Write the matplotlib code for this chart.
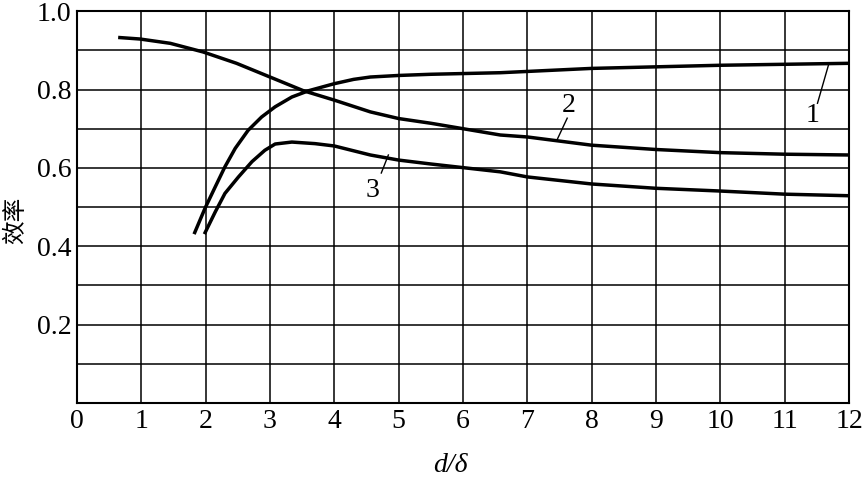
import numpy as np
import matplotlib
matplotlib.use('Agg')
import matplotlib.pyplot as plt

# curva 1
x1 = [1.82, 1.99, 2.15, 2.30, 2.46, 2.66, 2.87, 3.08, 3.34, 3.60, 4.0, 4.3, 4.56, 5.0, 5.5, 6.58, 8.0, 10.0, 12.0]
y1 = [0.431, 0.497, 0.552, 0.603, 0.650, 0.696, 0.730, 0.756, 0.781, 0.797, 0.815, 0.826, 0.832, 0.836, 0.839, 0.843, 0.854, 0.862, 0.867]

# curva 2
x2 = [0.64, 0.98, 1.45, 1.96, 2.48, 3.0, 3.52, 4.0, 4.56, 5.0, 5.5, 6.58, 7.0, 8.0, 9.0, 10.0, 11.0, 12.0]
y2 = [0.933, 0.929, 0.918, 0.896, 0.867, 0.832, 0.797, 0.773, 0.743, 0.726, 0.714, 0.684, 0.679, 0.658, 0.647, 0.639, 0.635, 0.633]

# curva 3
x3 = [1.98, 2.15, 2.30, 2.51, 2.72, 2.92, 3.08, 3.34, 3.70, 4.0, 4.56, 5.0, 5.5, 6.58, 7.0, 8.0, 9.0, 10.0, 11.0, 12.0]
y3 = [0.431, 0.488, 0.535, 0.577, 0.616, 0.645, 0.661, 0.666, 0.662, 0.656, 0.633, 0.62, 0.61, 0.59, 0.577, 0.559, 0.548, 0.541, 0.533, 0.529]

xticks = list(range(0, 13))
yticks = np.round(np.arange(0, 1.01, 0.1), 1)
ylabels = ['', '', '0.2', '', '0.4', '', '0.6', '', '0.8', '', '1.0']

serif = 'Liberation Serif'

fig = plt.figure(figsize=(8.65, 4.87), dpi=100)
ax = fig.add_axes([0.089, 0.1725, 0.8925, 0.8045])

for xs, ys in [(x1, y1), (x2, y2), (x3, y3)]:
    ax.plot(xs, ys, color='black', lw=2.5, solid_capstyle='butt', solid_joinstyle='round')

ax.set_xlim(0, 12)
ax.set_ylim(0, 1.0)
ax.set_xticks(xticks)
ax.set_xticklabels([str(t) for t in xticks], fontfamily=serif, fontsize=20)
ax.set_yticks(yticks)
ax.set_yticklabels(ylabels, fontfamily=serif, fontsize=20)
ax.tick_params(length=0, pad=4)
ax.grid(True, color='black', lw=1.1)
for s in ax.spines.values():
    s.set_linewidth(1.5)

# etiquetas de las curvas
ax.text(11.43, 0.735, '1', fontfamily=serif, fontsize=20, ha='center', va='center')
ax.plot([11.51, 11.68], [0.765, 0.862], color='black', lw=1.0)
ax.text(7.64, 0.76, '2', fontfamily=serif, fontsize=20, ha='center', va='center')
ax.plot([7.62, 7.46], [0.727, 0.671], color='black', lw=1.0)
ax.text(4.6, 0.543, '3', fontfamily=serif, fontsize=20, ha='center', va='center')
ax.plot([4.73, 4.84], [0.587, 0.633], color='black', lw=1.0)

fig.text(450 / 865, 1 - 465 / 487, 'd/δ', fontfamily=serif, fontstyle='italic',
         fontsize=20, ha='center', va='center')
fig.text(16 / 865, 1 - 220 / 487, '效率', fontfamily=['Noto Sans CJK SC', 'DejaVu Sans'],
         fontsize=17, rotation=90, ha='center', va='center')

fig.savefig('out.png', dpi=100)
